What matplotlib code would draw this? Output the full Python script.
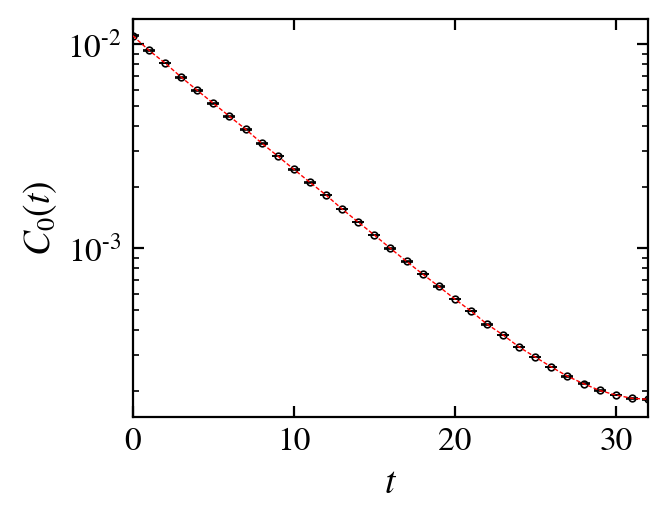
import matplotlib
matplotlib.use("Agg")
import matplotlib.pyplot as plt
import numpy as np
from matplotlib.ticker import LogLocator, NullLocator, MultipleLocator, FuncFormatter

plt.rcParams['font.family'] = ['STIXGeneral', 'DejaVu Serif']
plt.rcParams['mathtext.fontset'] = 'stix'

t = list(range(33))
corr = [1.102e-2, 9.345e-3, 8.10e-3, 6.91e-3, 5.95e-3, 5.14e-3, 4.44e-3, 3.84e-3,
        3.28e-3, 2.835e-3, 2.44e-3, 2.106e-3, 1.825e-3, 1.558e-3, 1.345e-3, 1.162e-3,
        1.0e-3, 8.63e-4, 7.48e-4, 6.51e-4, 5.64e-4, 4.93e-4, 4.25e-4, 3.76e-4,
        3.28e-4, 2.93e-4, 2.62e-4, 2.36e-4, 2.17e-4, 2.01e-4, 1.91e-4, 1.84e-4, 1.82e-4]
corr_err = [v * 0.004 for v in corr]
fit = corr

fig = plt.figure(figsize=(3.34, 2.59), dpi=200)
ax = fig.add_axes([0.199, 0.195, 0.771, 0.768])

ax.plot(t, fit, color='red', ls='--', lw=0.5, dashes=(3, 1.5), zorder=3)
ax.errorbar(t, corr, yerr=corr_err, fmt='o', ms=2.4, mfc='none', mec='black',
            mew=0.6, ecolor='black', elinewidth=0.6, capsize=2.2, capthick=0.9,
            zorder=2)

ax.set_yscale('log')
ax.set_xlim(0, 32)
ax.set_ylim(1.49e-4, 1.33e-2)
ax.xaxis.set_major_locator(MultipleLocator(10))
ax.xaxis.set_minor_locator(NullLocator())
ax.yaxis.set_major_locator(LogLocator(base=10))
ax.yaxis.set_minor_locator(LogLocator(base=10, subs=np.arange(2, 10)))


def logfmt(v, pos):
    e = int(round(np.log10(v)))
    s = '-' + str(-e) if e < 0 else str(e)
    return r'10$^{\text{' + s + '}}$'


ax.yaxis.set_major_formatter(FuncFormatter(logfmt))

ax.tick_params(which='both', direction='in', top=True, right=True, labelsize=12)
ax.tick_params(which='major', length=4, width=0.8, pad=4)
ax.tick_params(which='minor', length=2.2, width=0.6)
for s in ax.spines.values():
    s.set_linewidth(0.8)

ax.set_xlabel(r'$t$', fontsize=13.5, labelpad=3)
ax.set_ylabel(r'$C_0(t)$', fontsize=13.5, labelpad=3)

fig.savefig('out.png', dpi=200)
